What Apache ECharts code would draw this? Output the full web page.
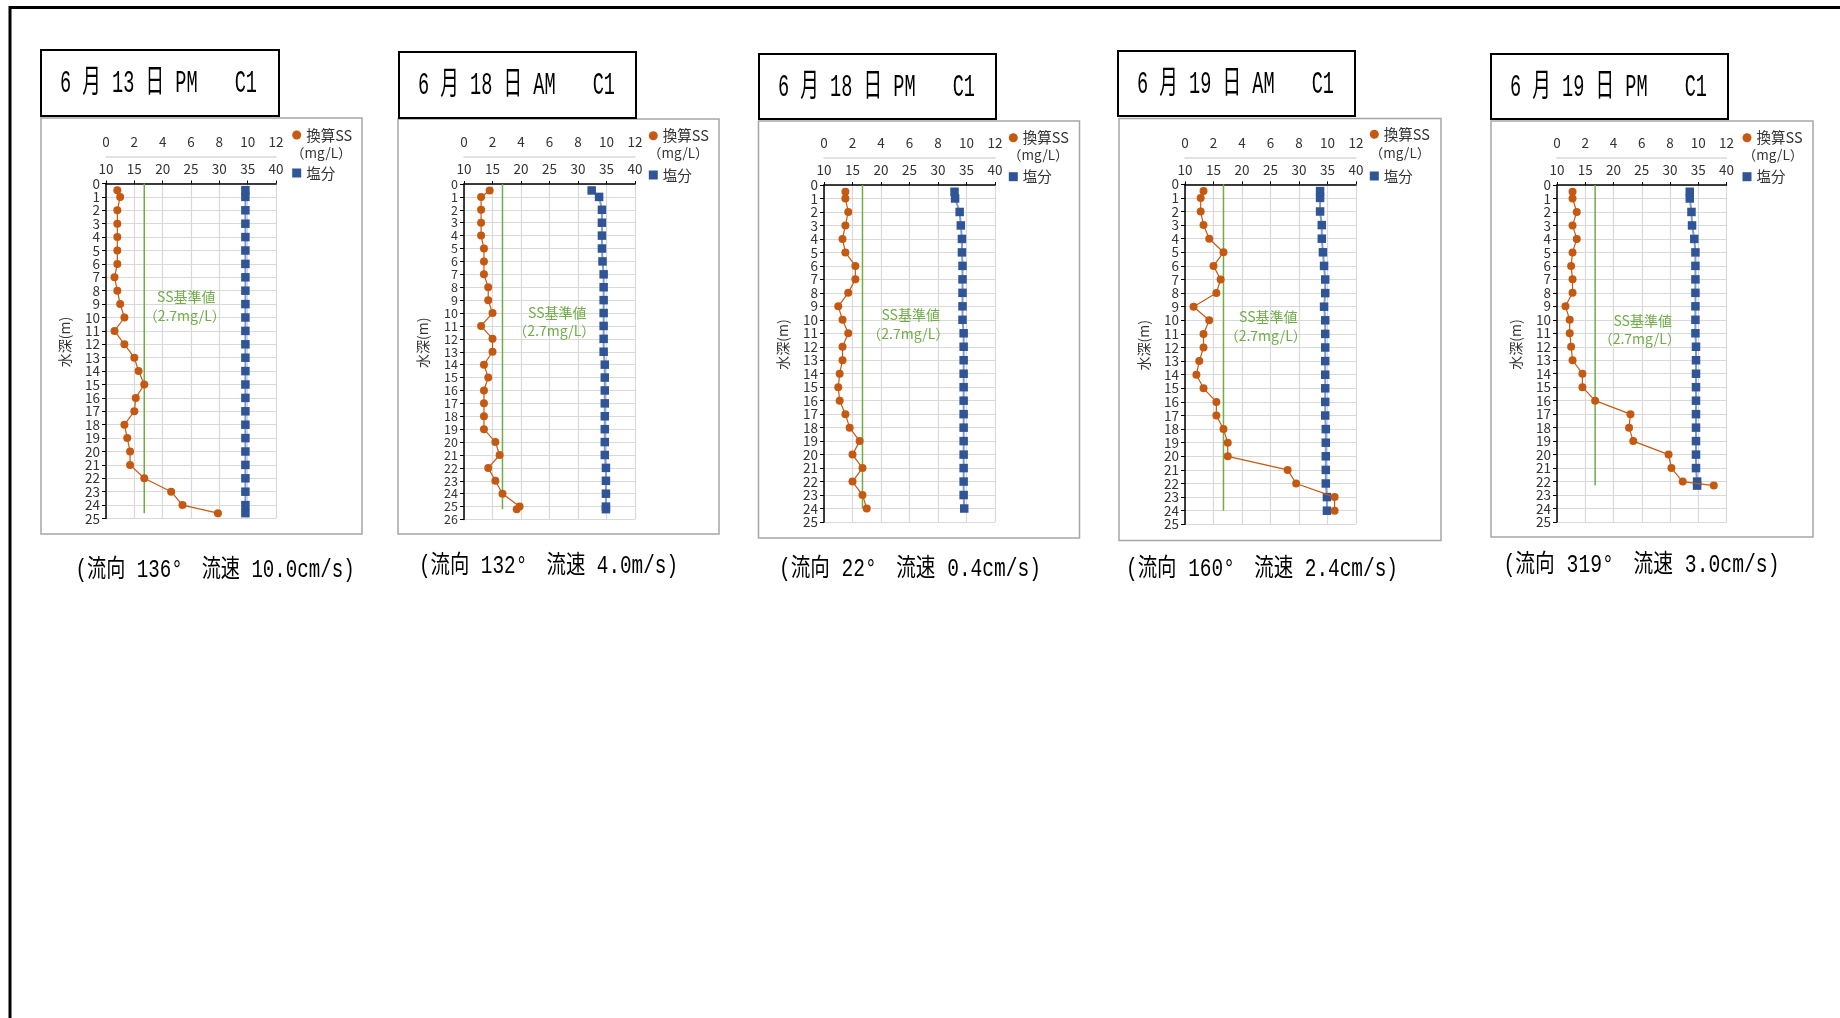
<!DOCTYPE html>
<html><head><meta charset="utf-8">
<script src="https://cdn.jsdelivr.net/npm/echarts@6/dist/echarts.min.js"></script>
<style>html,body{margin:0;padding:0;background:#fff}#c{width:1840px;height:1018px}</style>
</head><body><div id="c"></div>
<script>
// ---------------- DATA ----------------
const titles = ['6 月 13 日 PM　　C1', '6 月 18 日 AM　　C1', '6 月 18 日 PM　　C1', '6 月 19 日 AM　　C1', '6 月 19 日 PM　　C1'];
const captions = ['(流向 136°　流速 10.0cm/s)', '(流向 132°　流速 4.0m/s)', '(流向 22°　流速 0.4cm/s)', '(流向 160°　流速 2.4cm/s)', '(流向 319°　流速 3.0cm/s)'];
const seriesNames = ['換算SS', '塩分'];
const ssUnit = '（mg/L）';
const stdLabel = ['SS基準値', '（2.7mg/L）'];
const SS_STANDARD = 2.7;
const ssAxisRange = [0, 12, 2];      // min, max, interval
const salAxisRange = [10, 40, 5];
const depthMax = [25, 26, 25, 25, 25];

// 6/13 PM
const depth1 = [0.5, 1, 2, 3, 4, 5, 6, 7, 8, 9, 10, 11, 12, 13, 14, 15, 16, 17, 18, 19, 20, 21, 22, 23, 24, 24.6];
const ss1 = [0.8, 1.0, 0.8, 0.8, 0.8, 0.8, 0.8, 0.6, 0.8, 1.0, 1.3, 0.6, 1.3, 2.0, 2.3, 2.7, 2.1, 2.0, 1.3, 1.5, 1.7, 1.7, 2.7, 4.6, 5.4, 7.9];
const sal1 = [34.6, 34.6, 34.6, 34.6, 34.6, 34.6, 34.6, 34.6, 34.6, 34.6, 34.6, 34.6, 34.6, 34.6, 34.6, 34.6, 34.6, 34.6, 34.6, 34.6, 34.6, 34.6, 34.6, 34.6, 34.6, 34.6];
// 6/18 AM
const depth2 = [0.5, 1, 2, 3, 4, 5, 6, 7, 8, 9, 10, 11, 12, 13, 14, 15, 16, 17, 18, 19, 20, 21, 22, 23, 24, 25, 25.2];
const ss2 = [1.8, 1.2, 1.2, 1.2, 1.2, 1.4, 1.4, 1.4, 1.7, 1.7, 2.0, 1.2, 2.0, 2.0, 1.4, 1.7, 1.4, 1.4, 1.4, 1.4, 2.2, 2.5, 1.7, 2.2, 2.7, 3.9, 3.7];
const sal2 = [32.4, 33.7, 34.2, 34.2, 34.2, 34.2, 34.3, 34.5, 34.5, 34.5, 34.5, 34.5, 34.5, 34.5, 34.7, 34.7, 34.7, 34.7, 34.7, 34.7, 34.7, 34.7, 34.9, 34.9, 34.9, 34.9, 34.9];
// 6/18 PM
const depth3 = [0.5, 1, 2, 3, 4, 5, 6, 7, 8, 9, 10, 11, 12, 13, 14, 15, 16, 17, 18, 19, 20, 21, 22, 23, 24];
const ss3 = [1.5, 1.5, 1.7, 1.5, 1.3, 1.5, 2.2, 2.2, 1.7, 1.0, 1.3, 1.7, 1.3, 1.3, 1.1, 1.0, 1.1, 1.5, 1.8, 2.5, 2.0, 2.7, 2.0, 2.7, 3.0];
const sal3 = [32.9, 33.0, 33.8, 34.0, 34.2, 34.2, 34.3, 34.3, 34.3, 34.3, 34.3, 34.5, 34.5, 34.5, 34.5, 34.5, 34.5, 34.5, 34.5, 34.5, 34.5, 34.5, 34.5, 34.5, 34.6];
// 6/19 AM
const depth4 = [0.5, 1, 2, 3, 4, 5, 6, 7, 8, 9, 10, 11, 12, 13, 14, 15, 16, 17, 18, 19, 20, 21, 22, 23, 24];
const ss4 = [1.3, 1.1, 1.1, 1.3, 1.7, 2.7, 2.0, 2.5, 2.2, 0.6, 1.7, 1.3, 1.3, 1.0, 0.8, 1.3, 2.2, 2.2, 2.7, 3.0, 3.0, 7.2, 7.8, 10.5, 10.5];
const sal4 = [33.7, 33.7, 33.7, 34.0, 34.0, 34.2, 34.4, 34.6, 34.6, 34.4, 34.6, 34.6, 34.6, 34.6, 34.6, 34.6, 34.6, 34.6, 34.7, 34.7, 34.7, 34.7, 34.7, 34.9, 34.9];
// 6/19 PM
const depth5 = [0.5, 1, 2, 3, 4, 5, 6, 7, 8, 9, 10, 11, 12, 13, 14, 15, 16, 17, 18, 19, 20, 21, 22, 22.3];
const ss5 = [1.1, 1.1, 1.4, 1.1, 1.4, 1.1, 1.0, 1.1, 1.1, 0.6, 0.9, 0.9, 1.0, 1.1, 1.8, 1.8, 2.7, 5.2, 5.1, 5.4, 7.9, 8.1, 8.9, 11.1];
const sal5 = [33.5, 33.5, 33.8, 33.9, 34.3, 34.5, 34.5, 34.5, 34.5, 34.5, 34.5, 34.5, 34.6, 34.6, 34.6, 34.6, 34.6, 34.6, 34.6, 34.6, 34.6, 34.6, 34.8, 34.8];

const depths = [depth1, depth2, depth3, depth4, depth5];
const ssVals = [ss1, ss2, ss3, ss4, ss5];
const salVals = [sal1, sal2, sal3, sal4, sal5];

// ---------------- LAYOUT (pixels) ----------------
const layout = [
  {box:[41,118,321,416], title:[41,50,238,66], grid:[106,183.5,170,335], leg:[296.7,135,173], unit:[321.3,153.3], std:[186.3,296.7,184.7,316], cap:[75.6,570,279], yFont:13.5},
  {box:[398,119,321,415], title:[399,52,237,66], grid:[464,184,171,335.5], leg:[653.3,135.7,175], unit:[678.3,153.3], std:[557.3,312.3,554.3,331], cap:[419,566,259], yFont:12.5},
  {box:[758.5,121,321,417], title:[759,54,237,65], grid:[824,185,171,337], leg:[1013.3,137.7,176.7], unit:[1038.3,155], std:[910.7,315,908.3,334], cap:[779,569,262], yFont:13.5},
  {box:[1119,118.5,322,422], title:[1118,51,237,65], grid:[1185,184.3,171,340], leg:[1374.3,134.3,176], unit:[1400,153.3], std:[1268.3,316.7,1265.7,336], cap:[1126,569,272], yFont:13.5},
  {box:[1491,121,322,416], title:[1491,54,237,65], grid:[1557,185,169.5,337], leg:[1747,137.7,176.7], unit:[1773,155], std:[1642.7,321,1639.7,339], cap:[1503.5,565,276], yFont:13.5}
];
const FONT = '"Noto Sans CJK JP", "Noto Sans", sans-serif';
const CONDENSED = '"Liberation Mono", "Noto Sans CJK JP", monospace';
const C_SS = '#C65911', C_SAL = '#2F5597', C_SAL_LINE = '#7F9BD3', C_STD = '#70AD47', C_GRID = '#D9D9D9', C_TXT = '#333333';

const mctx = document.createElement('canvas').getContext('2d');
function measure(text, font) { mctx.font = font; return mctx.measureText(text).width; }

const grids = [], xAxes = [], yAxes = [], series = [], legends = [], graphics = [];

// outer frame
graphics.push({type:'polyline', shape:{points:[[10,1018],[10,7.5],[1840,7.5]]}, style:{stroke:'#000', lineWidth:3, fill:null}, silent:true});

layout.forEach((L, i) => {
  grids.push({left:L.grid[0], top:L.grid[1], width:L.grid[2], height:L.grid[3], containLabel:false});
  xAxes.push({
    gridIndex:i, type:'value', position:'top', offset:27,
    min:ssAxisRange[0], max:ssAxisRange[1], interval:ssAxisRange[2],
    axisLine:{show:true, onZero:false, lineStyle:{color:C_GRID, width:1.5}},
    axisTick:{show:false}, splitLine:{show:false},
    axisLabel:{fontSize:13.5, color:C_TXT, margin:8, fontFamily:FONT, showMinLabel:true, showMaxLabel:true}
  });
  xAxes.push({
    gridIndex:i, type:'value', position:'top',
    min:salAxisRange[0], max:salAxisRange[1], interval:salAxisRange[2],
    axisLine:{show:true, onZero:false, lineStyle:{color:'#000', width:1.5}},
    axisTick:{show:true, inside:false, length:3, lineStyle:{color:'#000'}},
    splitLine:{show:true, lineStyle:{color:C_GRID, width:1.2}},
    axisLabel:{fontSize:13.5, color:C_TXT, margin:8, fontFamily:FONT, showMinLabel:true, showMaxLabel:true}
  });
  yAxes.push({
    gridIndex:i, type:'value', inverse:true, min:0, max:depthMax[i], interval:1,
    name:'水深(m)', nameLocation:'middle', nameGap:34, nameRotate:90,
    nameTextStyle:{fontSize:14, color:C_TXT, fontFamily:FONT, padding:[0,0,0,18]},
    axisLine:{show:true, onZero:false, lineStyle:{color:'#000', width:1.5}},
    axisTick:{show:true, length:4, lineStyle:{color:'#000'}},
    axisLabel:{fontSize:L.yFont, lineHeight:11, color:C_TXT, margin:6, fontFamily:FONT, showMinLabel:true, showMaxLabel:true, hideOverlap:false},
    splitLine:{show:true, lineStyle:{color:C_GRID, width:1.2}}
  });
  const d = depths[i];
  series.push({
    name:'基準', type:'line', xAxisIndex:2*i, yAxisIndex:i, silent:true, symbol:'none',
    data:[[SS_STANDARD, 0], [SS_STANDARD, d[d.length-1]]],
    lineStyle:{color:C_STD, width:1.5}, z:1, animation:false
  });
  series.push({
    name:seriesNames[1], type:'line', xAxisIndex:2*i+1, yAxisIndex:i,
    data:d.map((v, k) => [salVals[i][k], v]),
    symbol:'rect', symbolSize:8.5, showAllSymbol:true,
    itemStyle:{color:C_SAL}, lineStyle:{color:C_SAL_LINE, width:2}, z:2, animation:false
  });
  series.push({
    name:seriesNames[0], type:'line', xAxisIndex:2*i, yAxisIndex:i,
    data:d.map((v, k) => [ssVals[i][k], v]),
    symbol:'circle', symbolSize:8, showAllSymbol:true,
    itemStyle:{color:C_SS}, lineStyle:{color:C_SS, width:1.2}, z:3, animation:false
  });
  legends.push({
    orient:'vertical', left:L.leg[0]-4.5, top:L.leg[1]-8, padding:0,
    itemWidth:9, itemHeight:9, itemGap:(L.leg[2]-L.leg[1])-16, selectedMode:false,
    textStyle:{fontSize:14.5, color:C_TXT, fontFamily:FONT, lineHeight:16},
    data:[{name:seriesNames[0], icon:'circle'}, {name:seriesNames[1], icon:'rect'}]
  });
  // chart box
  graphics.push({type:'rect', shape:{x:L.box[0], y:L.box[1], width:L.box[2], height:L.box[3]}, style:{fill:null, stroke:'#A6A6A6', lineWidth:1.5}, silent:true, z:-10});
  // title box
  graphics.push({type:'rect', shape:{x:L.title[0], y:L.title[1], width:L.title[2], height:L.title[3]}, style:{fill:'#fff', stroke:'#000', lineWidth:2}, silent:true, z:5});
  const tFont = '32px ' + CONDENSED;
  const tw = measure(titles[i], tFont);
  graphics.push({type:'text', x:L.title[0]+19, y:L.title[1]+L.title[3]/2+1, scaleX:197/tw, z:6, silent:true,
    style:{text:titles[i], font:tFont, fill:'#000', textAlign:'left', textVerticalAlign:'middle'}});
  // caption
  const cFont = '25px ' + CONDENSED;
  const cw = measure(captions[i], cFont);
  graphics.push({type:'text', x:L.cap[0], y:L.cap[1], scaleX:L.cap[2]/cw, z:6, silent:true,
    style:{text:captions[i], font:cFont, fill:'#000', textAlign:'left', textVerticalAlign:'middle'}});
  // unit under legend
  graphics.push({type:'text', x:L.unit[0], y:L.unit[1], z:6, silent:true,
    style:{text:ssUnit, font:'13.5px ' + FONT, fill:C_TXT, textAlign:'center', textVerticalAlign:'middle'}});
  // standard labels
  graphics.push({type:'text', x:L.std[0], y:L.std[1], z:6, silent:true,
    style:{text:stdLabel[0], font:'14px ' + FONT, fill:C_STD, textAlign:'center', textVerticalAlign:'middle'}});
  graphics.push({type:'text', x:L.std[2], y:L.std[3], z:6, silent:true,
    style:{text:stdLabel[1], font:'14px ' + FONT, fill:C_STD, textAlign:'center', textVerticalAlign:'middle'}});
});

const chart = echarts.init(document.getElementById('c'), null, {renderer:'canvas'});
chart.setOption({
  backgroundColor:'#fff', animation:false,
  grid:grids, xAxis:xAxes, yAxis:yAxes, series:series, legend:legends, graphic:graphics
});
</script></body></html>
